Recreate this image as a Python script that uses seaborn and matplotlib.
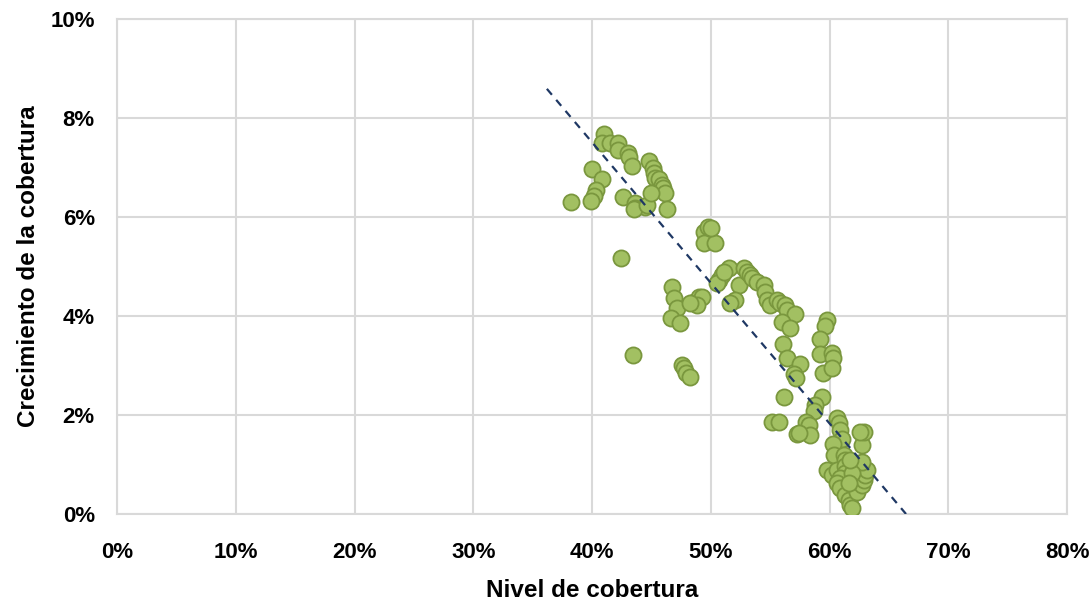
import numpy as np
import pandas as pd
import matplotlib
matplotlib.use("Agg")
import matplotlib.pyplot as plt
import seaborn as sns
from matplotlib.ticker import PercentFormatter

# Data (percent)
nivel = [
    40.97, 40.88, 41.53, 42.18, 42.23, 43.02, 43.13, 43.36, 39.99, 40.83,
    40.33, 40.21, 39.93, 38.25, 42.65, 43.64, 43.64, 44.48, 43.50, 44.62,
    44.76, 45.10, 45.18, 45.32, 45.66, 45.89, 46.02, 46.17, 44.99, 46.31,
    42.43, 49.39, 49.81, 49.45, 50.38, 50.00, 46.73, 46.87, 47.15, 46.65,
    47.43, 48.55, 48.97, 49.26, 48.84, 48.27, 43.45, 47.57, 47.71, 47.94,
    48.27, 50.66, 50.94, 51.50, 50.52, 51.10, 52.34, 52.06, 51.64, 52.76,
    53.05, 53.33, 53.47, 53.89, 54.45, 54.59, 54.73, 55.01, 55.58, 55.85,
    56.28, 56.42, 57.12, 56.00, 56.70, 56.08, 59.79, 59.65, 59.22, 59.22,
    56.42, 60.21, 60.29, 57.54, 56.97, 57.20, 59.45, 60.21, 56.19, 59.37,
    58.80, 58.66, 58.05, 58.24, 57.26, 58.32, 55.16, 55.71, 57.40, 60.63,
    60.77, 60.91, 61.05, 60.29, 60.35, 61.19, 61.33, 59.79, 60.21, 60.63,
    61.33, 61.33, 60.91, 60.63, 60.91, 61.33, 61.61, 61.75, 61.90, 62.03,
    62.17, 62.32, 62.74, 62.87, 63.02, 63.16, 62.74, 62.74, 62.93, 61.90,
    62.59, 61.75, 61.60,
]
crecimiento = [
    7.68, 7.50, 7.50, 7.50, 7.35, 7.29, 7.22, 7.03, 6.96, 6.76,
    6.55, 6.42, 6.32, 6.31, 6.40, 6.28, 6.18, 6.20, 6.16, 6.24,
    7.14, 6.98, 6.88, 6.78, 6.76, 6.65, 6.58, 6.48, 6.49, 6.16,
    5.18, 5.70, 5.80, 5.47, 5.48, 5.78, 4.58, 4.36, 4.16, 3.95,
    3.85, 4.29, 4.39, 4.38, 4.22, 4.27, 3.21, 3.01, 2.94, 2.85,
    2.77, 4.73, 4.83, 4.96, 4.66, 4.89, 4.63, 4.32, 4.26, 4.96,
    4.89, 4.83, 4.76, 4.69, 4.63, 4.49, 4.32, 4.22, 4.32, 4.26,
    4.22, 4.12, 4.05, 3.88, 3.75, 3.43, 3.92, 3.80, 3.53, 3.23,
    3.15, 3.26, 3.15, 3.03, 2.83, 2.74, 2.85, 2.94, 2.37, 2.36,
    2.20, 2.09, 1.86, 1.80, 1.62, 1.60, 1.86, 1.85, 1.63, 1.93,
    1.83, 1.70, 1.51, 1.41, 1.19, 1.19, 1.09, 0.89, 0.79, 0.89,
    0.96, 0.82, 0.72, 0.62, 0.52, 0.38, 0.28, 0.18, 0.12, 0.69,
    0.55, 0.45, 0.59, 0.69, 0.79, 0.89, 1.06, 1.39, 1.66, 0.82,
    1.66, 1.09, 0.63,
]

# Linear trend line (y = a + b*x, fractions)
trend_intercept = 0.1887
trend_slope = -0.284
trend_x_start = 0.362

x_ticks = [0, 0.1, 0.2, 0.3, 0.4, 0.5, 0.6, 0.7, 0.8]
y_ticks = [0, 0.02, 0.04, 0.06, 0.08, 0.10]

df = pd.DataFrame({
    "Nivel de cobertura": np.array(nivel) / 100.0,
    "Crecimiento de la cobertura": np.array(crecimiento) / 100.0,
})

sns.set_theme(style="white")
plt.rcParams["font.family"] = ["Liberation Sans", "DejaVu Sans"]

fig = plt.figure(figsize=(10.89, 6.07), dpi=100)
ax = fig.add_axes([117 / 1089, 1 - 514 / 607, (1067 - 117) / 1089, (514 - 19) / 607])

ax.set_axisbelow(True)
ax.grid(True, color="#D9D9D9", linewidth=1.5)

sns.scatterplot(
    data=df, x="Nivel de cobertura", y="Crecimiento de la cobertura",
    ax=ax, s=135, color="#A2C062", edgecolor="#7A973E", linewidth=1.3,
    zorder=3, legend=False,
)

x_end = -trend_intercept / trend_slope
tx = np.array([trend_x_start, x_end])
ty = trend_intercept + trend_slope * tx
ax.plot(tx, ty, color="#1F3864", linestyle=(0, (3.5, 3)), linewidth=1.6, zorder=4)

ax.set_xlim(0, 0.8)
ax.set_ylim(0, 0.10)
ax.set_xticks(x_ticks)
ax.set_yticks(y_ticks)
ax.xaxis.set_major_formatter(PercentFormatter(1.0, decimals=0))
ax.yaxis.set_major_formatter(PercentFormatter(1.0, decimals=0))

for sp in ax.spines.values():
    sp.set_color("#D9D9D9")
    sp.set_linewidth(1.5)

ax.tick_params(axis="x", length=0, labelsize=16, pad=20)
ax.tick_params(axis="y", length=0, labelsize=16, pad=16)
for lab in ax.get_xticklabels() + ax.get_yticklabels():
    lab.set_fontweight("bold")
    lab.set_color("black")

ax.set_xlabel("Nivel de cobertura", fontsize=17.5, fontweight="bold", color="black")
ax.set_ylabel("Crecimiento de la cobertura", fontsize=17.5, fontweight="bold", color="black")
ax.xaxis.set_label_coords(0.5, -0.131)
ax.yaxis.set_label_coords(-0.081, 0.5)

fig.savefig("out.png", dpi=100)
